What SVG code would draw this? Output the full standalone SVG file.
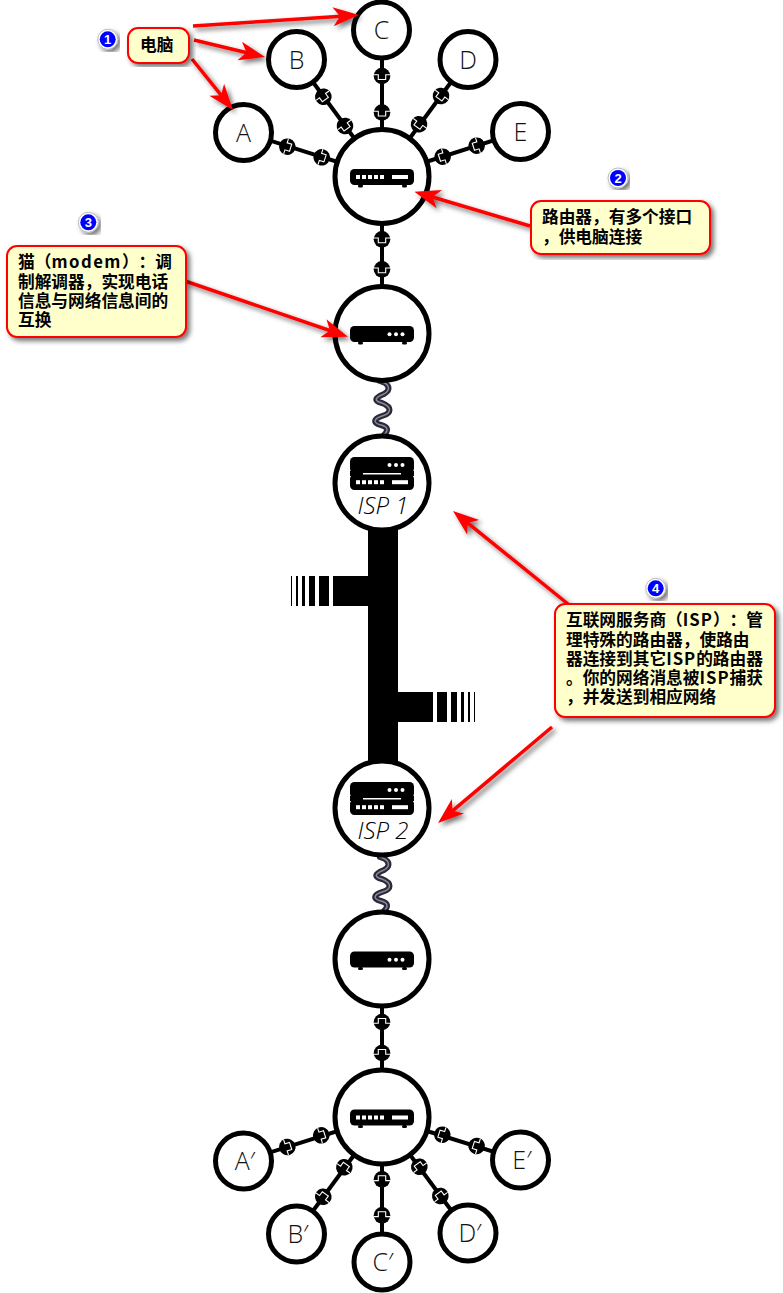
<svg xmlns="http://www.w3.org/2000/svg" xmlns:xlink="http://www.w3.org/1999/xlink" width="783" height="1293" viewBox="0 0 783 1293">
<style>
.big{fill:#fff;stroke:#000;stroke-width:5}
.pc{fill:#fff;stroke:#000;stroke-width:5}
.lbl{font-family:"Open Sans","Liberation Sans",sans-serif;font-weight:300;font-size:25px;fill:#111;text-anchor:middle}
.isp{font-family:"Open Sans","Liberation Sans",sans-serif;font-weight:300;font-style:italic;font-size:24px;fill:#000;text-anchor:middle}
.wire{stroke:#000;stroke-width:4;fill:none}
.coil{fill:none;stroke:#2a2a38;stroke-width:6;stroke-linecap:round}
.coilh{fill:none;stroke:#8a8a9c;stroke-width:1.4;stroke-linecap:round}
.box{fill:#ffffcc;stroke:#ff0000;stroke-width:2}
.note{font-family:"Noto Sans CJK SC","Liberation Sans",sans-serif;font-weight:700;font-size:16.7px;fill:#000;text-spacing-trim:space-all;font-kerning:none}
.sp{letter-spacing:1px}
.arrow{stroke:#ff0000;stroke-width:3.5;fill:none;marker-end:url(#head)}
.num{font-family:"Liberation Sans",sans-serif;font-weight:700;font-size:13px;fill:#fff;text-anchor:middle}
.w{fill:#fff}
</style>
<defs>
<filter id="sh" x="-10%" y="-10%" width="120%" height="120%"><feDropShadow dx="3" dy="3" stdDeviation="2.5" flood-color="#000" flood-opacity="0.55"/></filter>
<marker id="head" markerUnits="userSpaceOnUse" markerWidth="32" markerHeight="24" refX="16" refY="12" orient="auto" viewBox="0 0 32 24"><path d="M26,12 L0,2.5 L7,12 L0,21.5Z" fill="#ff0000"/></marker>
<g id="plug"><circle r="8.3" fill="#000"/><path d="M-8,-1.3H-3.7V3.5H3.7V-1.3H8" fill="none" stroke="#fff" stroke-width="1.1"/></g>
<g id="routerIcon"><rect x="-32" y="-7.5" width="64" height="16" rx="4.5" fill="#000"/><rect x="-24" y="8" width="5" height="3" rx="1.5" fill="#000"/><rect x="20" y="8" width="5" height="3" rx="1.5" fill="#000"/><rect class="w" x="-26" y="-1.5" width="4" height="4"/><rect class="w" x="-20" y="-1.5" width="4" height="4"/><rect class="w" x="-14" y="-1.5" width="4" height="4"/><rect class="w" x="-8" y="-1.5" width="4" height="4"/><rect class="w" x="-2" y="-1.5" width="4" height="4"/><rect class="w" x="10" y="-1.5" width="16" height="4"/></g>
<g id="modemIcon"><rect x="-32" y="-7.5" width="64" height="16" rx="4.5" fill="#000"/><rect x="-24" y="8" width="5" height="3" rx="1.5" fill="#000"/><rect x="20" y="8" width="5" height="3" rx="1.5" fill="#000"/><circle class="w" cx="7.5" cy="0.8" r="2"/><circle class="w" cx="14" cy="0.8" r="2"/><circle class="w" cx="20.5" cy="0.8" r="2"/></g>
<g id="ispIcon"><rect x="-32" y="-26" width="64" height="16" rx="4.5" fill="#000"/><circle class="w" cx="7.5" cy="-18" r="2"/><circle class="w" cx="14" cy="-18" r="2"/><circle class="w" cx="20.5" cy="-18" r="2"/><rect x="-32" y="-8.5" width="64" height="15.5" rx="4.5" fill="#000"/><rect x="-32" y="-12" width="13" height="5" fill="#000"/><rect x="19" y="-12" width="13" height="5" fill="#000"/><rect class="w" x="-26" y="-2.8" width="4" height="4"/><rect class="w" x="-20" y="-2.8" width="4" height="4"/><rect class="w" x="-14" y="-2.8" width="4" height="4"/><rect class="w" x="-8" y="-2.8" width="4" height="4"/><rect class="w" x="-2" y="-2.8" width="4" height="4"/><rect class="w" x="10" y="-2.8" width="16" height="4"/></g>
<path id="spring" d="M380,0 C390,3 391,9 384,13 C374,17 374,20 382,22 C392,26 392,32 382,35 C373,38 373,42 381,44 C389,46 388,50 384,54"/>
</defs>

<g id="connectors">
<g class="wire">
<line x1="382" y1="176" x2="382" y2="30"/>
<line x1="382" y1="176" x2="296" y2="59"/>
<line x1="382" y1="176" x2="243" y2="132"/>
<line x1="382" y1="176" x2="468" y2="59"/>
<line x1="382" y1="176" x2="520" y2="132"/>
<line x1="382" y1="176" x2="382" y2="333"/>
<line x1="382" y1="959" x2="382" y2="1117"/>
<line x1="382" y1="1117" x2="243" y2="1161"/>
<line x1="382" y1="1117" x2="296" y2="1234"/>
<line x1="382" y1="1117" x2="382" y2="1262"/>
<line x1="382" y1="1117" x2="468" y2="1233"/>
<line x1="382" y1="1117" x2="520" y2="1160"/>
</g>
<g id="plugs">
<use href="#plug" transform="translate(382,76)"/>
<use href="#plug" transform="translate(382,112.5)"/>
<use href="#plug" transform="translate(323.3,96.7) rotate(-36)"/>
<use href="#plug" transform="translate(345,126) rotate(-36)"/>
<use href="#plug" transform="translate(287.3,146.7) rotate(-72.4)"/>
<use href="#plug" transform="translate(321.7,157.3) rotate(-72.4)"/>
<use href="#plug" transform="translate(441,96) rotate(36)"/>
<use href="#plug" transform="translate(419,124.3) rotate(36)"/>
<use href="#plug" transform="translate(442.7,156.7) rotate(72.3)"/>
<use href="#plug" transform="translate(476.7,145.7) rotate(72.3)"/>
<use href="#plug" transform="translate(382,239.3)"/>
<use href="#plug" transform="translate(382,269.3)"/>
<use href="#plug" transform="translate(382,1022) rotate(180)"/>
<use href="#plug" transform="translate(382,1053) rotate(180)"/>
<use href="#plug" transform="translate(287.3,1147) rotate(-107.6)"/>
<use href="#plug" transform="translate(321.3,1135.3) rotate(-107.6)"/>
<use href="#plug" transform="translate(323.3,1196.7) rotate(-144)"/>
<use href="#plug" transform="translate(344.3,1167.3) rotate(-144)"/>
<use href="#plug" transform="translate(382,1179.3) rotate(180)"/>
<use href="#plug" transform="translate(382,1215.3) rotate(180)"/>
<use href="#plug" transform="translate(419.3,1166.7) rotate(144)"/>
<use href="#plug" transform="translate(440.3,1196) rotate(144)"/>
<use href="#plug" transform="translate(442.3,1134.7) rotate(107.6)"/>
<use href="#plug" transform="translate(476.7,1146) rotate(107.6)"/>
</g>
<g id="coils">
<use href="#spring" class="coil" transform="translate(0,381)"/>
<use href="#spring" class="coilh" transform="translate(0,381)"/>
<use href="#spring" class="coil" transform="translate(0,857)"/>
<use href="#spring" class="coilh" transform="translate(0,857)"/>
</g>
<g id="backbone" fill="#000">
<rect x="368" y="525" width="30" height="240"/>
<rect x="333" y="576" width="35" height="30"/>
<rect x="319" y="576" width="10" height="30"/>
<rect x="309" y="576" width="6" height="30"/>
<rect x="302" y="576" width="3" height="30"/>
<rect x="296" y="576" width="2" height="30"/>
<rect x="291" y="576" width="1" height="30"/>
<rect x="398" y="692" width="35" height="30"/>
<rect x="437" y="692" width="10" height="30"/>
<rect x="451" y="692" width="6" height="30"/>
<rect x="461" y="692" width="3" height="30"/>
<rect x="468" y="692" width="2" height="30"/>
<rect x="474" y="692" width="1" height="30"/>
</g>
</g>

<g id="pc-c"><circle class="pc" cx="381.5" cy="30" r="28"/><text class="lbl" x="381.5" y="39">C</text></g>
<g id="pc-b"><circle class="pc" cx="296.5" cy="59.5" r="28"/><text class="lbl" x="296.5" y="68.5">B</text></g>
<g id="pc-a"><circle class="pc" cx="243.5" cy="132.5" r="28"/><text class="lbl" x="243.5" y="141.5">A</text></g>
<g id="pc-d"><circle class="pc" cx="468" cy="59.5" r="28"/><text class="lbl" x="468" y="68.5">D</text></g>
<g id="pc-e"><circle class="pc" cx="520.5" cy="131.5" r="28"/><text class="lbl" x="520.5" y="140.5">E</text></g>
<g id="router-1"><circle class="big" cx="382" cy="176.5" r="47"/><use href="#routerIcon" x="382" y="176.5"/></g>
<g id="modem-1"><circle class="big" cx="382" cy="333.5" r="47"/><use href="#modemIcon" x="382" y="333.5"/></g>
<g id="isp-1"><circle class="big" cx="382" cy="483" r="47"/><use href="#ispIcon" x="382" y="483"/><text class="isp" x="383" y="514">ISP 1</text></g>
<g id="isp-2"><circle class="big" cx="382" cy="808" r="47"/><use href="#ispIcon" x="382" y="808"/><text class="isp" x="383" y="839">ISP 2</text></g>
<g id="modem-2"><circle class="big" cx="382" cy="959" r="47"/><use href="#modemIcon" x="382" y="959"/></g>
<g id="router-2"><circle class="big" cx="382" cy="1117" r="47"/><use href="#routerIcon" x="382" y="1117"/></g>
<g id="pc-a2"><circle class="pc" cx="243.5" cy="1161" r="28"/><text class="lbl" x="245" y="1170">A′</text></g>
<g id="pc-b2"><circle class="pc" cx="296.5" cy="1234" r="28"/><text class="lbl" x="298" y="1243">B′</text></g>
<g id="pc-c2"><circle class="pc" cx="382" cy="1262" r="28"/><text class="lbl" x="383" y="1271">C′</text></g>
<g id="pc-d2"><circle class="pc" cx="468" cy="1233" r="28"/><text class="lbl" x="470" y="1242">D′</text></g>
<g id="pc-e2"><circle class="pc" cx="520.5" cy="1160" r="28"/><text class="lbl" x="522" y="1169">E′</text></g>

<g id="arrows" filter="url(#sh)">
<line class="arrow" x1="193" y1="26" x2="349" y2="15.7"/>
<line class="arrow" x1="194" y1="40" x2="255.3" y2="54.7"/>
<line class="arrow" x1="192" y1="59" x2="226.7" y2="102.2"/>
<line class="arrow" x1="530" y1="226" x2="424" y2="194.5"/>
<line class="arrow" x1="185" y1="281" x2="338.5" y2="333.5"/>
<line class="arrow" x1="568" y1="604" x2="460.8" y2="517.3"/>
<line class="arrow" x1="552" y1="727" x2="445.7" y2="816.6"/>
</g>

<g id="note-1"><g filter="url(#sh)"><rect class="box" x="128" y="28" width="61" height="35" rx="10"/></g><text class="note" x="140" y="51">电脑</text></g>
<g id="note-2"><g filter="url(#sh)"><rect class="box" x="531" y="201" width="179" height="53" rx="10"/></g><text class="note"><tspan x="542" y="223">路由器，有多个接口</tspan><tspan x="542" y="243">，供电脑连接</tspan></text></g>
<g id="note-3"><g filter="url(#sh)"><rect class="box" x="7" y="246" width="179" height="91" rx="10"/></g><text class="note"><tspan x="18" y="268">猫（<tspan letter-spacing="1.5">modem</tspan>）：调</tspan><tspan x="18" y="288">制解调器，实现电话</tspan><tspan x="18" y="307">信息与网络信息间的</tspan><tspan x="18" y="326">互换</tspan></text></g>
<g id="note-4"><g filter="url(#sh)"><rect class="box" x="555" y="604" width="220" height="113" rx="10"/></g><text class="note"><tspan x="566" y="626">互联网服务商（<tspan class="sp">ISP</tspan>）：管</tspan><tspan x="566" y="645.5">理特殊的路由器，使路由</tspan><tspan x="566" y="664.5">器连接到其它<tspan class="sp">ISP</tspan>的路由器</tspan><tspan x="566" y="684">。你的网络消息被<tspan class="sp">ISP</tspan>捕获</tspan><tspan x="566" y="703">，并发送到相应网络</tspan></text></g>

<g id="badge-1"><circle cx="107.7" cy="39.3" r="10" fill="#fff" stroke="#bbb" stroke-width="1" filter="url(#sh)"/><circle cx="107.7" cy="39.3" r="8" fill="#0000ff"/><text class="num" x="107.7" y="43.8">1</text></g>
<g id="badge-2"><circle cx="618" cy="178" r="10" fill="#fff" stroke="#bbb" stroke-width="1" filter="url(#sh)"/><circle cx="618" cy="178" r="8" fill="#0000ff"/><text class="num" x="618" y="182.5">2</text></g>
<g id="badge-3"><circle cx="88.3" cy="222.3" r="10" fill="#fff" stroke="#bbb" stroke-width="1" filter="url(#sh)"/><circle cx="88.3" cy="222.3" r="8" fill="#0000ff"/><text class="num" x="88.3" y="226.8">3</text></g>
<g id="badge-4"><circle cx="655.7" cy="588.3" r="10" fill="#fff" stroke="#bbb" stroke-width="1" filter="url(#sh)"/><circle cx="655.7" cy="588.3" r="8" fill="#0000ff"/><text class="num" x="655.7" y="592.8">4</text></g>
</svg>
